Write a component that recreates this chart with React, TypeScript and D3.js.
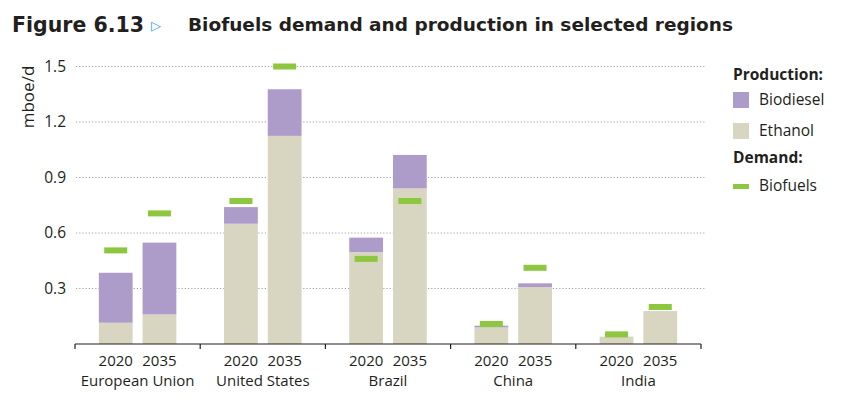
import React from "react";
import * as d3 from "d3";

const regions = ["European Union", "United States", "Brazil", "China", "India"];
const years = ["2020", "2035"];
// values in mboe/d, ordered [region][year]
const ethanol = [
  [0.115, 0.16],
  [0.65, 1.125],
  [0.497, 0.841],
  [0.09, 0.308],
  [0.04, 0.178],
];
const biodiesel = [
  [0.27, 0.388],
  [0.09, 0.252],
  [0.078, 0.181],
  [0.009, 0.02],
  [0.0, 0.0],
];
const demand = [
  [0.506, 0.706],
  [0.773, 1.5],
  [0.46, 0.773],
  [0.108, 0.412],
  [0.052, 0.2],
];
const yTicks = [0.3, 0.6, 0.9, 1.2, 1.5];

const W = 841;
const H = 404;
const C_BIO = "#ad9cca";
const C_ETH = "#d8d6c1";
const C_DEM = "#8dc63f";
const FONT = "'Open Sans', sans-serif";

export default function App() {
  const x0 = d3.scaleBand<string>().domain(regions).range([75, 701]).padding(0);
  const x1 = d3
    .scaleBand<string>()
    .domain(years)
    .range([0, x0.bandwidth()])
    .paddingInner(10 / 44)
    .paddingOuter(24 / 44);
  const y = d3.scaleLinear().domain([0, 1.5]).range([344, 66.5]);
  const bw = x1.bandwidth();
  const demW = 23;
  const demH = 6;

  const boundaries = regions.map((r) => x0(r) as number).concat([701]);

  return (
    <svg
      width={W}
      height={H}
      style={{ position: "absolute", left: 0, top: 0, background: "#fff" }}
      fontFamily={FONT}
    >
      {/* Title */}
      <text x={12} y={32} fontFamily="'DejaVu Sans', sans-serif" fontWeight="bold" fontSize={20.5} fill="#231f20">
        Figure 6.13
      </text>
      <text x={151} y={30} fontSize={13} fill="#2aa3d8" fontFamily="'DejaVu Sans', sans-serif">
        ▷
      </text>
      <text x={188} y={31} fontFamily="'DejaVu Sans', sans-serif" fontWeight="bold" fontSize={18.5} fill="#231f20">
        Biofuels demand and production in selected regions
      </text>

      {/* gridlines */}
      {yTicks.map((t) => (
        <g key={t}>
          <line
            x1={76}
            x2={706}
            y1={y(t)}
            y2={y(t)}
            stroke="#a0a0a0"
            strokeWidth={1}
            strokeDasharray="1.2,2"
          />
          <text x={66} y={y(t)} dy="0.35em" textAnchor="end" fontSize={15.5} fill="#231f20">
            {t.toFixed(1)}
          </text>
        </g>
      ))}
      <text
        transform={`translate(34,97) rotate(-90)`}
        textAnchor="middle"
        fontSize={17}
        fill="#231f20"
      >
        mboe/d
      </text>

      {/* bars */}
      {regions.map((r, i) => (
        <g key={r} transform={`translate(${x0(r)},0)`}>
          {years.map((yr, j) => {
            const bx = x1(yr) as number;
            const e = ethanol[i][j];
            const b = biodiesel[i][j];
            return (
              <g key={yr}>
                <rect x={bx} y={y(e)} width={bw} height={y(0) - y(e)} fill={C_ETH} />
                {b > 0 && (
                  <rect x={bx} y={y(e + b)} width={bw} height={y(e) - y(e + b)} fill={C_BIO} />
                )}
                <rect
                  x={bx + bw / 2 - demW / 2}
                  y={y(demand[i][j]) - demH / 2}
                  width={demW}
                  height={demH}
                  fill={C_DEM}
                />
                <text
                  x={bx + bw / 2}
                  y={365.5}
                  textAnchor="middle"
                  fontSize={15}
                  fill="#231f20"
                >
                  {yr}
                </text>
              </g>
            );
          })}
          <text x={x0.bandwidth() / 2} y={385.5} textAnchor="middle" fontSize={15} fill="#231f20">
            {r}
          </text>
        </g>
      ))}

      {/* axis */}
      <line x1={75} x2={701} y1={344} y2={344} stroke="#231f20" strokeWidth={1.2} />
      {boundaries.map((bx, k) => (
        <line key={k} x1={bx} x2={bx} y1={344} y2={349} stroke="#231f20" strokeWidth={1.2} />
      ))}

      {/* legend */}
      <text x={733} y={80} fontSize={15.5} fontWeight="bold" fill="#231f20">
        Production:
      </text>
      <rect x={733} y={92} width={16} height={16} fill={C_BIO} />
      <text x={759} y={100} dy="0.35em" fontSize={15.5} fill="#231f20">
        Biodiesel
      </text>
      <rect x={733} y={123} width={16} height={16} fill={C_ETH} />
      <text x={759} y={131} dy="0.35em" fontSize={15.5} fill="#231f20">
        Ethanol
      </text>
      <text x={733} y={163} fontSize={15.5} fontWeight="bold" fill="#231f20">
        Demand:
      </text>
      <rect x={733} y={184} width={16} height={5} fill={C_DEM} />
      <text x={759} y={186} dy="0.35em" fontSize={15.5} fill="#231f20">
        Biofuels
      </text>
    </svg>
  );
}
